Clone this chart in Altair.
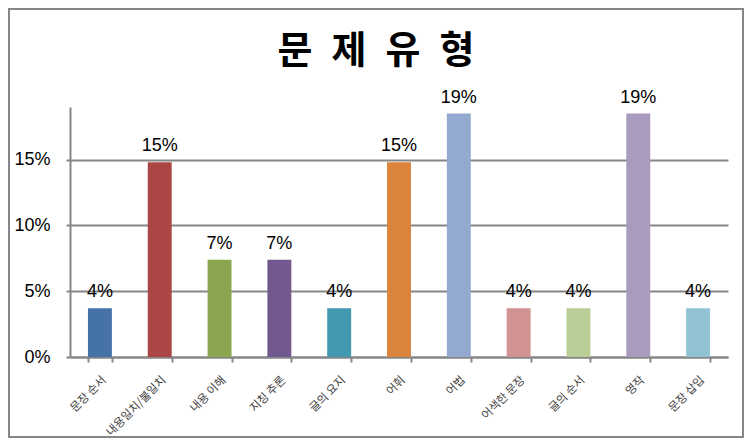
import altair as alt
import pandas as pd

categories = ["문장 순서", "내용일치/불일치", "내용 이해", "지칭 추론", "글의 요지",
              "어휘", "어법", "어색한 문장", "글의 순서", "영작", "문장 삽입"]
shares_pct = [3.7, 14.8, 7.4, 7.4, 3.7, 14.8, 18.5, 3.7, 3.7, 18.5, 3.7]
colors = ["#4572A7", "#AA4643", "#89A54E", "#71588F", "#4198AF", "#DB843D",
          "#93A9CF", "#D19392", "#B9CD96", "#A99BBD", "#92C3D4"]
y_ticks = [0, 0.05, 0.10, 0.15]
title_text = "문\u2002제\u2002유\u2002형"

df = pd.DataFrame({"cat": categories, "share": [s / 100 for s in shares_pct]})

W, H = 658, 250
PL, PT, PR, PB = 62, 99, 16, 81
GRAY = "#868686"

x = alt.X(
    "cat:N",
    scale=alt.Scale(domain=categories, paddingInner=0.6, paddingOuter=0.3),
    axis=alt.Axis(
        title=None, labelAngle=-45, labelFont="Noto Sans CJK KR", labelFontSize=11.5,
        labelColor="#404040", tickBand="extent", tickSize=5, tickColor=GRAY,
        tickWidth=2, domainColor=GRAY, domainWidth=2, labelPadding=12, grid=False,
    ),
)
y = alt.Y(
    "share:Q",
    scale=alt.Scale(domain=[0, 0.19], nice=False),
    axis=alt.Axis(
        title=None, values=y_ticks, format=".0%", labelFont="Liberation Sans",
        labelFontSize=18, labelColor="#000000", tickSize=4, tickColor=GRAY,
        tickWidth=2, domainColor=GRAY, domainWidth=2, grid=True, gridColor=GRAY,
        gridWidth=2, labelPadding=16,
    ),
)

base = alt.Chart(df)
bars = base.mark_bar().encode(
    x=x, y=y,
    color=alt.Color("cat:N", scale=alt.Scale(domain=categories, range=colors), legend=None),
)
labels = base.mark_text(
    dy=-11, baseline="alphabetic", font="Liberation Sans", fontSize=18, color="#000000"
).encode(x=x, y=y, text=alt.Text("share:Q", format=".0%"))

title = alt.Chart(alt.Data(values=[{"t": title_text}])).mark_text(
    font="Noto Sans CJK KR", fontWeight="bold", fontSize=38, baseline="middle",
    align="center", color="#000000",
).encode(x=alt.value(306), y=alt.value(-55), text="t:N")

border = alt.Chart(alt.Data(values=[{"b": 1}])).mark_rect(
    filled=False, stroke=GRAY, strokeWidth=2
).encode(x=alt.value(-PL + 1), x2=alt.value(W + PR - 1),
         y=alt.value(-PT + 1), y2=alt.value(H + PB - 1))

chart = alt.layer(bars, labels, title, border).properties(
    width=W, height=H,
    padding={"left": PL, "top": PT, "right": PR, "bottom": PB},
    autosize=alt.AutoSizeParams(type="none"),
).configure_view(stroke=None)

chart.save("out.html", embed_options={"renderer": "svg", "actions": False})
